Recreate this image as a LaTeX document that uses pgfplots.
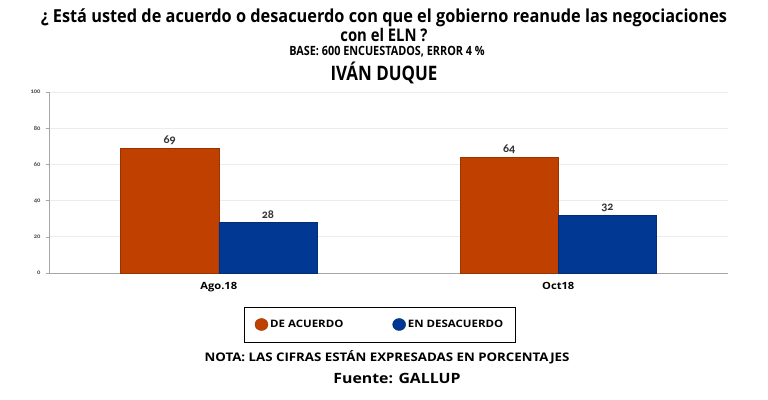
\documentclass[border=0pt]{standalone}
\usepackage{fontspec}
\setmainfont{Open Sans}
\newfontfamily\titlefont{Open Sans}[FakeStretch=0.91]
\newfontfamily\basefont{Open Sans}[FakeStretch=0.85]
\newfontfamily\widefont{Open Sans}[FakeStretch=1.12]
\newfontfamily\numfont{Carlito}[Numbers=OldStyle]
\usepackage{pgfplots}
\pgfplotsset{compat=1.18}
\definecolor{orng}{HTML}{C04000}
\definecolor{blu}{HTML}{003893}
\begin{document}
\begin{tikzpicture}[x=1bp,y=1bp]
\useasboundingbox (0,0) rectangle (768,399);
\fill[white] (0,0) rectangle (768,399);
\begin{axis}[at={(49bp,126bp)}, anchor=south west, scale only axis,
  width=679bp, height=181bp,
  xmin=-0.5, xmax=1.5, ymin=0, ymax=100,
  /pgf/number format/assume math mode=true,
  ytick={0,20,...,100}, xtick={0,1}, xticklabels={Ago.18,Oct18},
  ybar=0pt, bar width=0.289,
  axis x line*=bottom, axis y line*=left,
  axis line style={draw=gray!70, line width=0.8bp},
  ymajorgrids, major grid style={draw=gray!15, line width=0.8bp},
  x tick style={draw=none},
  y tick style={draw=gray!70, line width=0.6bp},
  tick align=outside, major tick length=3bp,
  yticklabel style={font=\numfont\bfseries\fontsize{6.5}{7}\selectfont, text=black!70, xshift=-2bp},
  xticklabel style={font=\widefont\bfseries\fontsize{10}{12}\selectfont, yshift=-3bp},
  nodes near coords,
  every node near coord/.append style={font=\numfont\bfseries\fontsize{12}{13}\selectfont, text=black!80, yshift=0bp},
  legend style={at={(0.4875,-0.2845)}, anchor=center, legend columns=2,
    draw=black, line width=0.9bp, inner xsep=10bp, inner ysep=11bp,
    font=\widefont\bfseries\fontsize{10.3}{12}\selectfont,
    /tikz/every even column/.append style={column sep=47bp}},
  legend image code/.code={\fill[#1] (2bp,0bp) ellipse (6.5bp and 6bp);},
]
\addplot[fill=orng, draw=orng!80!black, line width=0.4bp] coordinates {(0,69) (1,64)};
\addplot[fill=blu, draw=blu!80!black, line width=0.4bp] coordinates {(0,28) (1,32)};
\legend{DE ACUERDO, EN DESACUERDO}
\end{axis}
\node[font=\titlefont\bfseries\fontsize{18}{17}\selectfont] at (384,381) {¿ Está usted de acuerdo o desacuerdo con que el gobierno reanude las negociaciones};
\node[font=\basefont\bfseries\fontsize{17.5}{17}\selectfont] at (384,364) {con el ELN ?};
\node[font=\basefont\bfseries\fontsize{12.8}{15}\selectfont] at (387,347) {BASE: 600 ENCUESTADOS, ERROR 4 \%};
\node[font=\basefont\bfseries\fontsize{20}{22}\selectfont] at (384,326) {IVÁN DUQUE};
\node[font=\widefont\bfseries\fontsize{11.9}{13}\selectfont] at (387,42) {NOTA: LAS CIFRAS ESTÁN EXPRESADAS EN PORCENTAJES};
\node[font=\widefont\bfseries\fontsize{14.2}{16}\selectfont] at (397,21) {Fuente: GALLUP};
\end{tikzpicture}
\end{document}
